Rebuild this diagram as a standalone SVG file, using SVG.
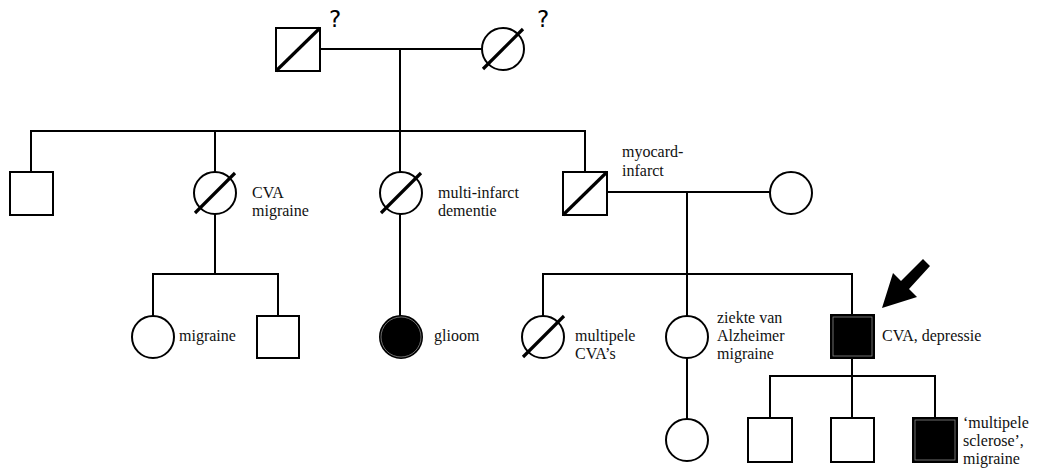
<svg xmlns="http://www.w3.org/2000/svg" width="1038" height="471" viewBox="0 0 1038 471">
<style>
.ln{fill:none;stroke:#000;stroke-width:2}
.sh{fill:#fff;stroke:#000;stroke-width:2}
.fl{fill:#000;stroke:#000;stroke-width:2}
.in{fill:none;stroke:#888;stroke-width:0.8}
.dg{stroke:#000;stroke-width:3.2;fill:none}
text{font-family:'Liberation Serif','Noto Serif','DejaVu Serif',Tinos,Times,serif;font-size:16px;fill:#111}
text.q{font-family:'DejaVu Sans','Liberation Sans',sans-serif;font-size:23px;fill:#000}
</style>
<rect width="1038" height="471" fill="#fff"/>
<g id="connectors" class="ln">
<path d="M320 49H482"/>
<path d="M400 49V131"/>
<path d="M31 172V131H585V172"/>
<path d="M215 131V172"/>
<path d="M400 131V172"/>
<path d="M215 214V274"/>
<path d="M153 316V274H278V316"/>
<path d="M400 214V316"/>
<path d="M607 192H770"/>
<path d="M687 192V274"/>
<path d="M543 316V274H852V315"/>
<path d="M687 274V316"/>
<path d="M687 358V419"/>
<path d="M852 358V376"/>
<path d="M770 418V376H935V418"/>
<path d="M852 376V418"/>
</g>
<g id="I-1">
<rect class="sh" x="276" y="28" width="44" height="43"/>
<line class="dg" x1="276" y1="71" x2="320" y2="28"/>
<text class="q" x="329" y="27">?</text>
</g>
<g id="I-2">
<circle class="sh" cx="503" cy="49" r="21"/>
<line class="dg" x1="483" y1="69" x2="523" y2="29"/>
<text class="q" x="537" y="27">?</text>
</g>
<g id="II-1">
<rect class="sh" x="10" y="172" width="43" height="43"/>
</g>
<g id="II-2">
<circle class="sh" cx="215" cy="193" r="21"/>
<line class="dg" x1="195" y1="213" x2="235" y2="173"/>
<text x="252" y="198">CVA</text>
<text x="252" y="216">migraine</text>
</g>
<g id="II-3">
<circle class="sh" cx="401" cy="193" r="21"/>
<line class="dg" x1="381" y1="213" x2="421" y2="173"/>
<text x="438" y="198">multi-infarct</text>
<text x="438" y="216">dementie</text>
</g>
<g id="II-4">
<rect class="sh" x="563" y="172" width="44" height="43"/>
<line class="dg" x1="563" y1="215" x2="607" y2="172"/>
<text x="622" y="157">myocard-</text>
<text x="622" y="176">infarct</text>
</g>
<g id="II-5">
<circle class="sh" cx="791" cy="193" r="21"/>
</g>
<g id="III-1">
<circle class="sh" cx="153" cy="337" r="21"/>
<text x="179" y="341">migraine</text>
</g>
<g id="III-2">
<rect class="sh" x="257" y="316" width="42" height="42"/>
</g>
<g id="III-3">
<circle class="fl" cx="401" cy="337" r="21"/>
<circle class="in" cx="401" cy="337" r="20"/>
<text x="434" y="341">glioom</text>
</g>
<g id="III-4">
<circle class="sh" cx="543" cy="337" r="21"/>
<line class="dg" x1="523" y1="357" x2="564" y2="316"/>
<text x="575" y="341">multipele</text>
<text x="575" y="359">CVA’s</text>
</g>
<g id="III-5">
<circle class="sh" cx="687" cy="337" r="21"/>
<text x="717" y="323">ziekte van</text>
<text x="717" y="341">Alzheimer</text>
<text x="717" y="359">migraine</text>
</g>
<g id="III-6">
<rect class="fl" x="831" y="315" width="43" height="43"/>
<rect class="in" x="833" y="317" width="39" height="39"/>
<polygon fill="#000" points="882,308 893,273 901,281 923,259 930,266 909,289 917,297"/>
<text x="882" y="341">CVA, depressie</text>
</g>
<g id="IV-1">
<circle class="sh" cx="687" cy="440" r="21"/>
</g>
<g id="IV-2">
<rect class="sh" x="748" y="418" width="44" height="44"/>
</g>
<g id="IV-3">
<rect class="sh" x="831" y="418" width="43" height="44"/>
</g>
<g id="IV-4">
<rect class="fl" x="913" y="418" width="44" height="44"/>
<rect class="in" x="915" y="420" width="40" height="40"/>
<text x="963" y="428">‘multipele</text>
<text x="963" y="446">sclerose’,</text>
<text x="963" y="464">migraine</text>
</g>
</svg>
